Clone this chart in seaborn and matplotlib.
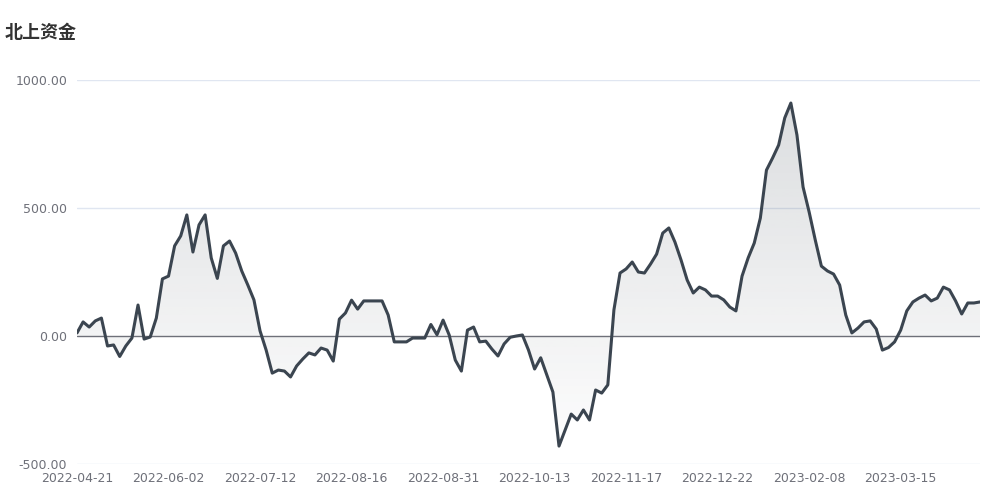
import numpy as np
import pandas as pd
import seaborn as sns
import matplotlib.pyplot as plt
from matplotlib.ticker import FormatStrFormatter

# 北上资金 values, one point per step (category axis)
values = [
    12, 55, 35, 59, 70, -39, -35, -80, -39, -8,
    121, -12, -4, 70, 223, 234, 352, 391, 473, 328,
    434, 473, 305, 225, 352, 371, 324, 254, 199, 141,
    20, -55, -145, -133, -137, -160, -117, -90, -66, -74,
    -47, -55, -98, 66, 90, 140, 105, 137, 137, 137,
    137, 82, -23, -23, -23, -8, -8, -8, 45, 5,
    62, 4, -94, -137, 23, 35, -23, -20, -51, -78,
    -31, -5, 0, 4, -55, -129, -85, -152, -219, -430,
    -367, -305, -328, -289, -328, -211, -223, -191, 102, 246,
    262, 289, 250, 246, 281, 320, 402, 422, 367, 297,
    219, 168, 191, 180, 156, 156, 141, 113, 98, 234,
    305, 363, 461, 648, 695, 746, 852, 910, 785, 582,
    484, 375, 273, 254, 242, 199, 82, 12, 31, 55,
    59, 27, -55, -45, -23, 23, 98, 133, 148, 160,
    137, 148, 191, 180, 137, 86, 129, 129, 133,
]
tick_labels = [
    "2022-04-21", "2022-06-02", "2022-07-12", "2022-08-16", "2022-08-31",
    "2022-10-13", "2022-11-17", "2022-12-22", "2023-02-08", "2023-03-15",
]
label_every = 15

df = pd.DataFrame({"idx": np.arange(len(values)), "value": values})

sns.set_style("white")
plt.rcParams['font.family'] = ['DejaVu Sans', 'Noto Sans CJK SC']

fig = plt.figure(figsize=(10, 5), dpi=100)
ax = fig.add_axes([0.077, 0.072, 0.903, 0.768])

line_col = "#3b4550"
sns.lineplot(data=df, x="idx", y="value", ax=ax, color=line_col, linewidth=2.2, zorder=4)

# gradient area between the line and zero
x = df["idx"].to_numpy()
y = df["value"].to_numpy(dtype=float)
poly = ax.fill_between(x, y, 0, color="none", linewidth=0)
grad = np.linspace(0.18, 0.01, 256).reshape(-1, 1)
img = np.zeros((256, 1, 4))
img[..., 0] = 58 / 255
img[..., 1] = 68 / 255
img[..., 2] = 80 / 255
img[..., 3] = grad
im = ax.imshow(img, extent=[x.min(), x.max(), y.min(), y.max()],
               aspect="auto", origin="upper", zorder=2, interpolation="bilinear")
im.set_clip_path(poly.get_paths()[0], transform=ax.transData)

ax.set_xlim(0, len(values) - 1)
ax.set_ylim(-500, 1000)
ax.set_yticks([-500, 0, 500, 1000])
ax.yaxis.set_major_formatter(FormatStrFormatter("%.2f"))
ax.set_xticks(np.arange(0, len(values), label_every)[:len(tick_labels)])
ax.set_xticklabels(tick_labels)

for v in [-500, 500, 1000]:
    ax.axhline(v, color="#e0e6f1", linewidth=1, zorder=1)
ax.axhline(0, color="#6e7079", linewidth=1, zorder=3)

for s in ax.spines.values():
    s.set_visible(False)
ax.tick_params(axis="both", length=0, labelsize=9, colors="#6e7079")
ax.tick_params(axis="y", pad=7)
ax.tick_params(axis="x", pad=6)
ax.set_xlabel("")
ax.set_ylabel("")

fig.text(0.005, 0.935, "北上资金", fontsize=13, fontweight="bold", color="#333333",
         family=['Noto Sans CJK SC', 'DejaVu Sans'], va="center", ha="left")

plt.savefig("out.png", dpi=100)
plt.close()
